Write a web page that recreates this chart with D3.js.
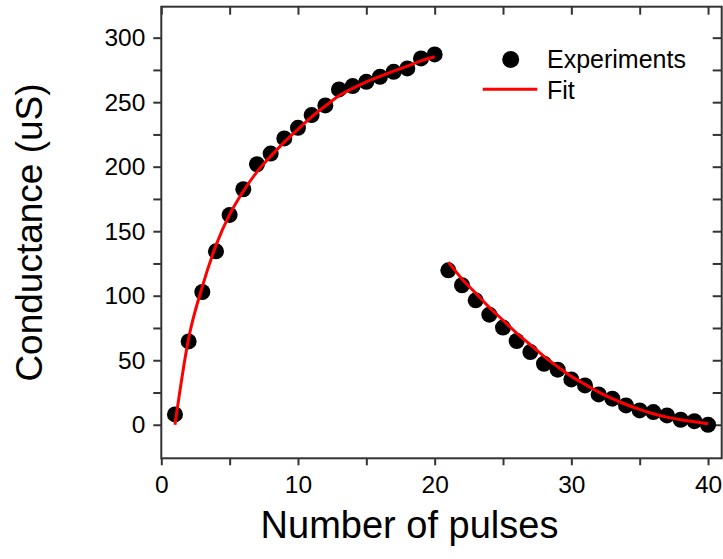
<!DOCTYPE html>
<html>
<head>
<meta charset="utf-8">
<script src="https://cdn.jsdelivr.net/npm/d3@7"></script>
<style>
  html, body { margin: 0; padding: 0; background: #fff; }
  svg { display: block; font-family: "Liberation Sans", Arial, sans-serif; }
</style>
</head>
<body>
<svg id="chart" width="723" height="559"></svg>
<script>
// ---- data ----
const pulsesUp   = [1,2,3,4,5,6,7,8,9,10,11,12,13,14,15,16,17,18,19,20];
const pulsesDown = [21,22,23,24,25,26,27,28,29,30,31,32,33,34,35,36,37,38,39,40];
const expUp   = [8.0, 64.6, 102.9, 134.4, 162.6, 182.5, 201.9, 210.2, 221.9, 230.1, 240.0, 247.5, 259.9, 262.5, 265.8, 269.7, 273.5, 276.2, 283.9, 287.0];
const expDown = [119.7, 108.1, 96.4, 85.3, 75.3, 64.9, 56.3, 47.3, 42.7, 35.1, 30.5, 23.5, 20.2, 15.0, 11.1, 9.8, 7.2, 3.9, 2.8, 0.0];
const fitUp   = [0, 67, 107, 139, 163, 181, 196, 208, 219, 229, 238.6, 247, 255, 260.7, 265.8, 270, 274, 278, 282, 285.2];
const fitDown = [126, 113, 102, 91, 81, 71, 62, 53, 45, 37.5, 31.3, 25.3, 20.2, 15.7, 11.9, 8.5, 5.9, 3.9, 2.3, 0.8];
const xTicks = [0,5,10,15,20,25,30,35,40];
const xLabels = [0,10,20,30,40];
const yTicks = [0,25,50,75,100,125,150,175,200,225,250,275,300];
const yLabels = [0,50,100,150,200,250,300];
const xTitle = "Number of pulses";
const yTitle = "Conductance (uS)";
const legendLabels = ["Experiments", "Fit"];

// ---- layout ----
const L = 161.3, R = 721.7, T = 6.7, B = 458.3;
const axisColor = "#333";
const svg = d3.select("#chart");

const x = d3.scaleLinear().domain([0, 41]).range([L, R]);
const y = d3.scaleLinear().domain([-26, 324]).range([B, T]);

const fmtX = d => xLabels.includes(d) ? d : "";
const fmtY = d => yLabels.includes(d) ? d : "";

function styleAxis(g) {
  g.select(".domain").remove();
  g.selectAll(".tick line").attr("stroke", axisColor).attr("stroke-width", 2);
  g.selectAll(".tick text").attr("fill", "#000").attr("font-size", 24.5)
    .attr("font-family", '"Liberation Sans", Arial, sans-serif');
}

// bottom
svg.append("g").attr("transform", `translate(0,${B})`)
  .call(d3.axisBottom(x).tickValues(xTicks).tickFormat(fmtX).tickSize(7).tickPadding(10))
  .call(styleAxis);
// top (inward)
svg.append("g").attr("transform", `translate(0,${T})`)
  .call(d3.axisBottom(x).tickValues(xTicks).tickFormat("").tickSize(8))
  .call(styleAxis);
// left
svg.append("g").attr("transform", `translate(${L},0)`)
  .call(d3.axisLeft(y).tickValues(yTicks).tickFormat(fmtY).tickSize(8).tickPadding(8))
  .call(styleAxis);
// right (inward)
svg.append("g").attr("transform", `translate(${R},0)`)
  .call(d3.axisLeft(y).tickValues(yTicks).tickFormat("").tickSize(9))
  .call(styleAxis);

// frame
svg.append("rect").attr("x", L).attr("y", T).attr("width", R - L).attr("height", B - T)
  .attr("fill", "none").attr("stroke", axisColor).attr("stroke-width", 2);

// points
const pts = pulsesUp.map((p, i) => [p, expUp[i]]).concat(pulsesDown.map((p, i) => [p, expDown[i]]));
svg.append("g").selectAll("circle").data(pts).enter().append("circle")
  .attr("cx", d => x(d[0])).attr("cy", d => y(d[1])).attr("r", 8).attr("fill", "#000");

// fit lines
const line = d3.line().x(d => x(d[0])).y(d => y(d[1])).curve(d3.curveMonotoneX);
[pulsesUp.map((p, i) => [p, fitUp[i]]), pulsesDown.map((p, i) => [p, fitDown[i]])].forEach(seg => {
  svg.append("path").datum(seg).attr("d", line)
    .attr("fill", "none").attr("stroke", "#ff0000").attr("stroke-width", 3);
});

// legend
const lg = svg.append("g");
lg.append("circle").attr("cx", 510.7).attr("cy", 59.5).attr("r", 8.5).attr("fill", "#000");
lg.append("text").attr("x", 547).attr("y", 67.5).attr("font-size", 25).text(legendLabels[0]);
lg.append("line").attr("x1", 482.7).attr("x2", 537.3).attr("y1", 89.3).attr("y2", 89.3)
  .attr("stroke", "#ff0000").attr("stroke-width", 3);
lg.append("text").attr("x", 547).attr("y", 98.5).attr("font-size", 25).text(legendLabels[1]);

// axis titles
svg.append("text").attr("x", 409.5).attr("y", 538).attr("text-anchor", "middle")
  .attr("font-size", 38).text(xTitle);
svg.append("text").attr("transform", `translate(42,${(T + B) / 2}) rotate(-90)`)
  .attr("text-anchor", "middle").attr("font-size", 37).text(yTitle);
</script>
</body>
</html>
